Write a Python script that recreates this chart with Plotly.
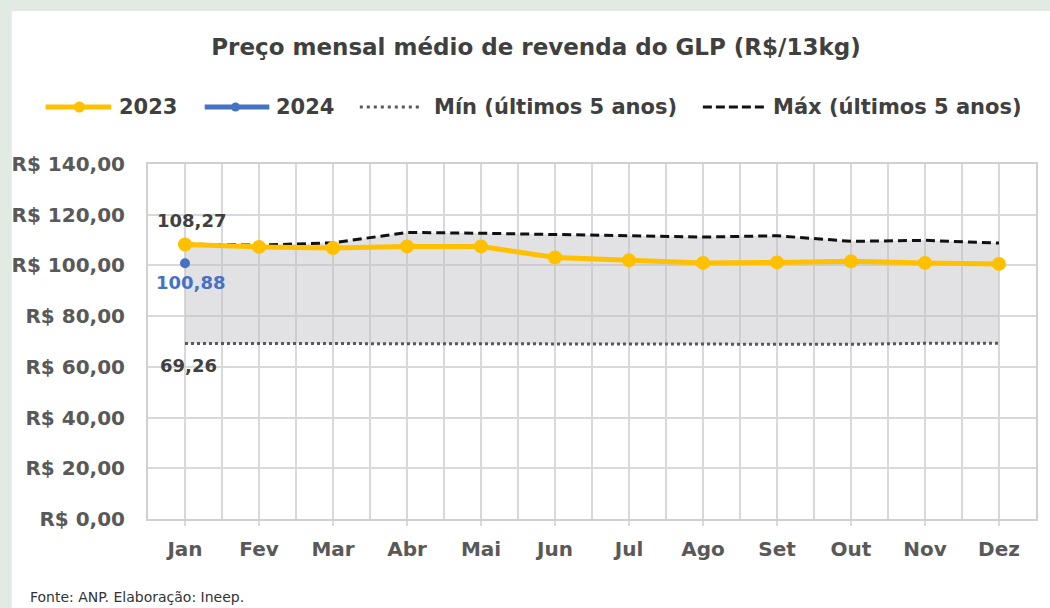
import plotly.graph_objects as go

months = ["Jan", "Fev", "Mar", "Abr", "Mai", "Jun", "Jul", "Ago", "Set", "Out", "Nov", "Dez"]
v2023 = [108.27, 107.3, 106.9, 107.5, 107.5, 103.1, 102.0, 101.0, 101.2, 101.6, 101.0, 100.6]
v2024 = [100.88]
vmin = [69.26, 69.2, 69.2, 69.1, 69.1, 69.0, 69.0, 68.8, 68.8, 68.9, 69.3, 69.3]
vmax = [108.4, 108.0, 108.9, 113.0, 112.7, 112.3, 111.7, 111.2, 111.7, 109.5, 109.9, 108.8]
yticks = [0, 20, 40, 60, 80, 100, 120, 140]
ytick_text = ["R$ 0,00", "R$ 20,00", "R$ 40,00", "R$ 60,00", "R$ 80,00",
              "R$ 100,00", "R$ 120,00", "R$ 140,00"]

x = list(range(len(months)))
FONT = "DejaVu Sans, Arial, sans-serif"
TXT = "#404040"
BG = "#E1EBE3"

def br(v):
    return f"{v:.2f}".replace(".", ",")

fig = go.Figure()
fig.add_trace(go.Scatter(x=x, y=vmin, mode="lines", name="Mín (últimos 5 anos)",
                         line=dict(color="#595959", width=3, dash="3px,3px"), showlegend=False))
fig.add_trace(go.Scatter(x=x, y=vmax, mode="lines", name="Máx (últimos 5 anos)",
                         line=dict(color="#111111", width=3, dash="9px,5px"),
                         fill="tonexty", fillcolor="rgba(190,188,192,0.45)", showlegend=False))
fig.add_trace(go.Scatter(x=x, y=v2023, mode="lines+markers", name="2023",
                         line=dict(color="#FFC000", width=5),
                         marker=dict(color="#FFC000", size=14), showlegend=False))
fig.add_trace(go.Scatter(x=x[:len(v2024)], y=v2024, mode="markers", name="2024",
                         marker=dict(color="#4472C4", size=10), showlegend=False))

# data labels
fig.add_annotation(x=0, y=v2023[0], text="<b>%s</b>" % br(v2023[0]), showarrow=False,
                   yshift=24, xshift=6, font=dict(size=18, color=TXT, family=FONT))
fig.add_annotation(x=0, y=v2024[0], text="<b>%s</b>" % br(v2024[0]), showarrow=False,
                   yshift=-19, xshift=5, font=dict(size=18, color="#4472C4", family=FONT))
fig.add_annotation(x=0, y=vmin[0], text="<b>%s</b>" % br(vmin[0]), showarrow=False,
                   yshift=-22, xshift=3, font=dict(size=18, color=TXT, family=FONT))

# layout geometry
W, H = 1050, 608
L, R, T, B = 145, 1038, 164, 519
def px(v):
    return (v - L) / (R - L)
def py(v):
    return (B - v) / (B - T)

shapes = [dict(type="rect", xref="paper", yref="paper", x0=px(8), x1=px(1060), y0=py(620), y1=py(11),
               fillcolor="white", line=dict(width=0), layer="below")]

# custom legend
LY = 107
ly = py(LY)
legend_items = [
    (42, 108, "#FFC000", "solid", 5, 76, "#FFC000", 11, 114, "2023"),
    (202, 267, "#4472C4", "solid", 5, 233, "#4472C4", 9, 272, "2024"),
    (358, 420, "#595959", "3px,4px", 3, None, None, 0, 431, "Mín (últimos 5 anos)"),
    (703, 767, "#111111", "9px,4px", 3, None, None, 0, 772, "Máx (últimos 5 anos)"),
]
for x0, x1, col, dash, wdt, mx, mcol, msz, tx, label in legend_items:
    shapes.append(dict(type="line", xref="paper", yref="paper", x0=px(x0), x1=px(x1), y0=ly, y1=ly,
                       line=dict(color=col, width=wdt, dash=dash)))
    if mx is not None:
        r = msz / 2
        shapes.append(dict(type="circle", xref="paper", yref="paper",
                           x0=px(mx - r), x1=px(mx + r), y0=py(LY + r), y1=py(LY - r),
                           fillcolor=mcol, line=dict(width=0)))
    fig.add_annotation(xref="paper", yref="paper", x=px(tx), y=ly, xanchor="left", yanchor="middle",
                       text="<b>%s</b>" % label, showarrow=False,
                       font=dict(size=21, color=TXT, family=FONT))

fig.add_annotation(xref="paper", yref="paper", x=px(24), y=py(597), xanchor="left", yanchor="middle",
                   text="Fonte: ANP. Elaboração: Ineep.", showarrow=False,
                   font=dict(size=14, color="#333333", family=FONT))

fig.update_layout(
    width=W, height=H,
    margin=dict(l=L, r=W - R, t=T, b=H - B),
    paper_bgcolor=BG,
    plot_bgcolor="rgba(0,0,0,0)",
    title=dict(text="<b>Preço mensal médio de revenda do GLP (R$/13kg)</b>",
               xref="container", x=536 / W, xanchor="center",
               yref="container", y=1 - 47 / H, yanchor="middle",
               font=dict(size=23, color=TXT, family=FONT)),
    shapes=shapes,
    showlegend=False,
)
fig.update_xaxes(range=[-0.5, 11.5], tickvals=x, ticktext=["<b>%s</b>" % m for m in months],
                 showgrid=True, gridcolor="#D9D9D9", gridwidth=1.5,
                 minor=dict(tickvals=[i - 0.5 for i in range(13)], showgrid=True, gridcolor="#D9D9D9", gridwidth=1.5),
                 ticks="outside", ticklen=5, tickcolor="#D9D9D9", tickwidth=1.5,
                 showline=True, linecolor="#D0D0D0", linewidth=2, mirror=True, zeroline=False,
                 tickfont=dict(size=20, color="#595959", family=FONT), ticklabelstandoff=6)
fig.update_yaxes(range=[0, 140], tickvals=yticks, ticktext=["<b>%s</b>" % t for t in ytick_text],
                 showgrid=True, gridcolor="#D9D9D9", gridwidth=1.5,
                 showline=True, linecolor="#D0D0D0", linewidth=2, mirror=True, zeroline=False,
                 ticks="", tickfont=dict(size=20, color="#595959", family=FONT), ticklabelstandoff=17)

fig.write_html(
    "out.html",
    config={"displayModeBar": False},
    post_script="document.body.style.margin='0';document.body.style.overflow='hidden';"
                "document.body.style.background='%s';" % BG,
)
